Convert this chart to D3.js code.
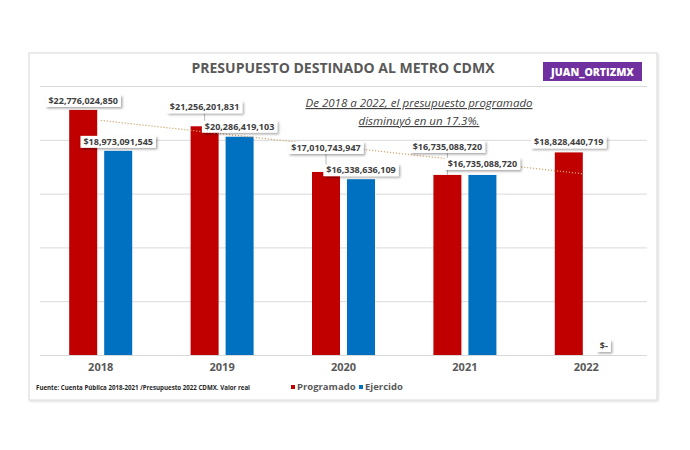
<!DOCTYPE html>
<html><head><meta charset="utf-8">
<script src="https://cdn.jsdelivr.net/npm/d3@7"></script>
<style>body{margin:0;background:#fff;} text{font-family:"Open Sans",sans-serif;}</style>
</head><body>
<script>
const years = ["2018","2019","2020","2021","2022"];
const seriesNames = ["Programado","Ejercido"];
const programado = [22776024850, 21256201831, 17010743947, 16735088720, 18828440719];
const ejercido = [18973091545, 20286419103, 16338636109, 16735088720, 0];
const yTicks = [0, 5e9, 10e9, 15e9, 20e9, 25e9];
const titleText = "PRESUPUESTO DESTINADO AL METRO CDMX";
const badgeText = "JUAN_ORTIZMX";
const noteLines = ["De 2018 a 2022, el presupuesto programado", "disminuyó en un 17.3%."];
const sourceText = "Fuente: Cuenta Pública 2018-2021 /Presupuesto 2022 CDMX. Valor real";

const colors = {Programado:"#C00000", Ejercido:"#0070C0"};
// layout: how far each value label sits above its bar
const labelLift = {Programado:[3,13,18,22,4], Ejercido:[3,4,3,5,3]};

const W=690,H=450;
const svg = d3.select("body").append("svg").attr("width",W).attr("height",H);
const defs = svg.append("defs");
const f = defs.append("filter").attr("id","sh").attr("x","-20%").attr("y","-40%").attr("width","150%").attr("height","200%");
f.append("feDropShadow").attr("dx",1.5).attr("dy",1.5).attr("stdDeviation",0.8).attr("flood-color","#000").attr("flood-opacity",0.35);
const f2 = defs.append("filter").attr("id","psh").attr("x","-5%").attr("y","-5%").attr("width","110%").attr("height","110%");
f2.append("feDropShadow").attr("dx",1).attr("dy",1).attr("stdDeviation",1).attr("flood-color","#000").attr("flood-opacity",0.15);

// panel
svg.append("rect").attr("x",29).attr("y",53).attr("width",628).attr("height",347)
  .attr("fill","#fff").attr("stroke","#D9D9D9").attr("stroke-width",1).attr("filter","url(#psh)");

const x0 = d3.scaleBand().domain(years).range([40,647]);
const x1 = d3.scaleBand().domain(seriesNames).range([0,63]).paddingInner(0.2);
const groupOff = (x0.bandwidth()-63)/2;
const y = d3.scaleLinear().domain([0,25e9]).range([355,86]);

// gridlines
svg.append("g").attr("transform","translate(40,0)")
  .call(d3.axisLeft(y).tickValues(yTicks).tickSize(-607).tickFormat(""))
  .call(g=>{g.select(".domain").remove(); g.selectAll("line").attr("stroke","#D9D9D9").attr("stroke-width",1);});

// title
svg.append("text").attr("x",343).attr("y",73).attr("text-anchor","middle")
  .attr("font-size",14).attr("font-weight",700).attr("fill","#595959").text(titleText);
// badge
svg.append("rect").attr("x",543).attr("y",62).attr("width",99).attr("height",19).attr("fill","#7030A0");
svg.append("text").attr("x",592.5).attr("y",75.5).attr("text-anchor","middle").attr("font-size",10.5)
  .attr("font-weight",800).attr("fill","#fff").text(badgeText);

// note
noteLines.forEach((t,i)=>{
  svg.append("text").attr("x",419).attr("y",107+i*18).attr("text-anchor","middle")
    .attr("font-size",11.5).attr("font-style","italic").attr("fill","#404040")
    .attr("text-decoration","underline").text(t);
});

// bars
const data = years.map((yr,i)=>({year:yr, vals:[{s:"Programado",v:programado[i],i},{s:"Ejercido",v:ejercido[i],i}]}));
const groups = svg.append("g").selectAll("g").data(data).join("g")
  .attr("transform",d=>`translate(${x0(d.year)+groupOff},0)`);
groups.selectAll("rect").data(d=>d.vals).join("rect")
  .attr("x",d=>x1(d.s)).attr("width",x1.bandwidth())
  .attr("y",d=>y(d.v)).attr("height",d=>y(0)-y(d.v)).attr("fill",d=>colors[d.s]);

// trendline (linear fit of Programado)
const n = programado.length, xs = d3.range(1,n+1);
const mx = d3.mean(xs), my = d3.mean(programado);
const slope = d3.sum(xs.map((xv,i)=>(xv-mx)*(programado[i]-my)))/d3.sum(xs.map(xv=>(xv-mx)**2));
const icpt = my - slope*mx;
const tx = i => x0(years[i])+x0.bandwidth()/2;
svg.append("line").attr("x1",tx(0)).attr("y1",y(icpt+slope*1)).attr("x2",tx(n-1)-3).attr("y2",y(icpt+slope*n))
  .attr("stroke","#D2A56C").attr("stroke-width",1.2).attr("stroke-dasharray","1.2,1.8");

// value labels
const fmt = v => v===0 ? "$-" : "$"+d3.format(",")(v);
const lab = svg.append("g");
data.forEach(d=>{
  d.vals.forEach(p=>{
    const cx = x0(d.year)+groupOff+x1(p.s)+x1.bandwidth()/2;
    const top = y(p.v);
    const lift = labelLift[p.s][p.i];
    const bottom = top - lift;
    const g = lab.append("g");
    const t = g.append("text").attr("x",cx).attr("y",bottom-3).attr("text-anchor","middle")
      .attr("font-size",9).attr("font-weight",700).attr("fill","#404040").text(fmt(p.v));
    const w = t.node().getComputedTextLength();
    if(lift>6){
      g.insert("line","text").attr("x1",cx).attr("x2",cx).attr("y1",bottom).attr("y2",top)
        .attr("stroke","#A6A6A6").attr("stroke-width",0.8);
    }
    g.insert("rect","text").attr("x",cx-w/2-3).attr("y",bottom-12).attr("width",w+6).attr("height",12)
      .attr("fill","#fff").attr("filter","url(#sh)");
  });
});

// x axis labels
svg.append("g").attr("transform","translate(0,371)")
  .call(d3.axisBottom(x0).tickSize(0).tickPadding(0))
  .call(g=>{g.select(".domain").remove(); g.selectAll("text").attr("dy",0).attr("font-size",11)
     .attr("font-weight",700).attr("fill","#595959").attr("font-family","'Open Sans',sans-serif");});

// source
svg.append("text").attr("x",36).attr("y",390).attr("font-size",7.5).attr("font-weight",700)
  .attr("fill","#262626").attr("font-family","'Liberation Sans Narrow','Liberation Sans',sans-serif")
  .attr("textLength",214).attr("lengthAdjust","spacingAndGlyphs").text(sourceText);

// legend
const leg = svg.append("g").selectAll("g").data(seriesNames).join("g")
  .attr("transform",(d,i)=>`translate(${i?359:291},0)`);
leg.append("rect").attr("x",0).attr("y",385).attr("width",4).attr("height",4).attr("fill",d=>colors[d]);
leg.append("text").attr("x",6).attr("y",390).attr("font-size",9.5).attr("font-weight",700)
  .attr("fill","#595959").text(d=>d);
</script>
</body></html>
